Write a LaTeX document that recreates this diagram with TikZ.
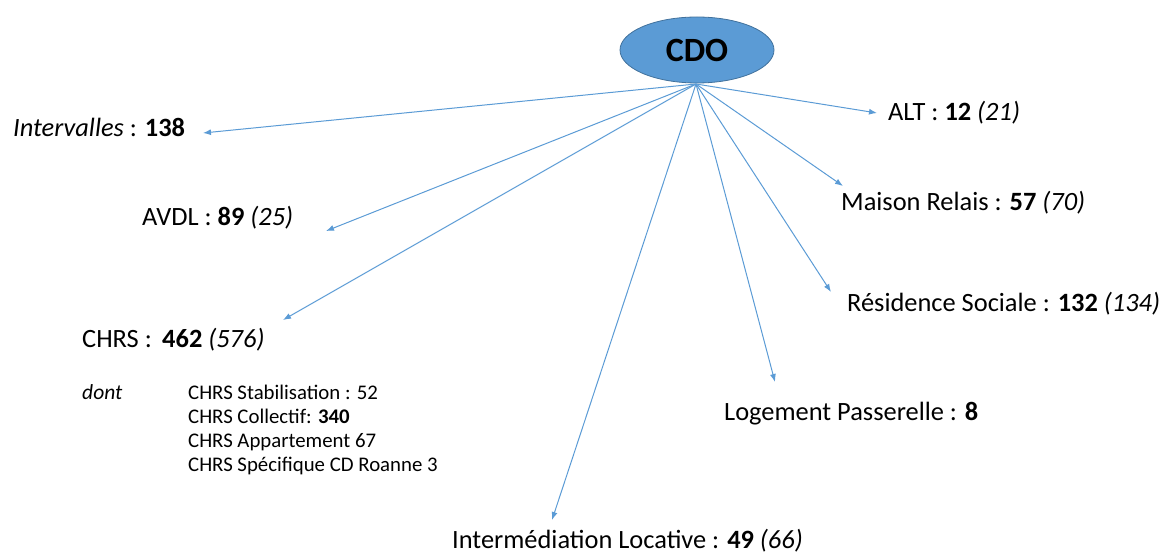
\documentclass[tikz,border=0pt]{standalone}
\usepackage{fontspec}
\setmainfont{Carlito}
\usetikzlibrary{arrows.meta,shapes.geometric}
\definecolor{cdofill}{HTML}{5B9BD5}
\definecolor{cdoedge}{HTML}{41719C}
\definecolor{arr}{HTML}{5B9BD5}
\begin{document}
\begin{tikzpicture}[x=1pt,y=-1pt,
  lbl/.style={anchor=west,inner sep=0pt,font=\fontsize{26.4}{30}\selectfont},
  sub/.style={anchor=north west,inner sep=0pt,align=left,font=\fontsize{20.8}{24}\selectfont},
  conn/.style={draw=arr,line width=1pt,-{Latex[length=8pt,width=6pt]}}]
\useasboundingbox (0,0) rectangle (1165,556);
\node[ellipse,draw=cdoedge,line width=0.8pt,fill=cdofill,minimum width=154pt,minimum height=66pt,inner sep=0pt,font=\fontsize{34}{38}\selectfont\bfseries] (cdo) at (697,50) {CDO};
\coordinate (o) at (696,84);
\node[lbl] (int) at (13,127) {\textit{Intervalles} : \textbf{138}};
\node[lbl] (avdl) at (142,218) {AVDL : \textbf{89} \textit{(25)}};
\node[lbl] (chrs) at (82,340) {CHRS :\, \textbf{462} \textit{(576)}};
\node[anchor=north west,inner sep=0pt,font=\fontsize{21.5}{24}\selectfont\itshape] (dont) at (82,384) {dont};
\node[sub] (det) at (188,385) {CHRS Stabilisation : 52\\CHRS Collectif: \textbf{340}\\CHRS Appartement 67\\CHRS Spécifique CD Roanne 3};
\node[lbl] (alt) at (888,113) {ALT : \textbf{12} \textit{(21)}};
\node[lbl] (mr) at (841,203) {Maison Relais : \textbf{57} \textit{(70)}};
\node[lbl] (rs) at (847,304) {Résidence Sociale : \textbf{132} \textit{(134)}};
\node[lbl] (lp) at (724,414) {Logement Passerelle : \textbf{8}};
\node[lbl] (il) at (452,541) {Intermédiation Locative : \textbf{49} \textit{(66)}};
\coordinate (tint) at (203,133);
\coordinate (tavdl) at (326,231);
\coordinate (tchrs) at (283,320);
\coordinate (talt) at (877,113);
\coordinate (tmr) at (843,186);
\coordinate (trs) at (831,292);
\coordinate (tlp) at (775,382);
\coordinate (til) at (552,520);
\foreach \t in {tint,tavdl,tchrs,talt,tmr,trs,tlp,til}
  \draw[conn] (o) -- (\t);
\end{tikzpicture}
\end{document}
